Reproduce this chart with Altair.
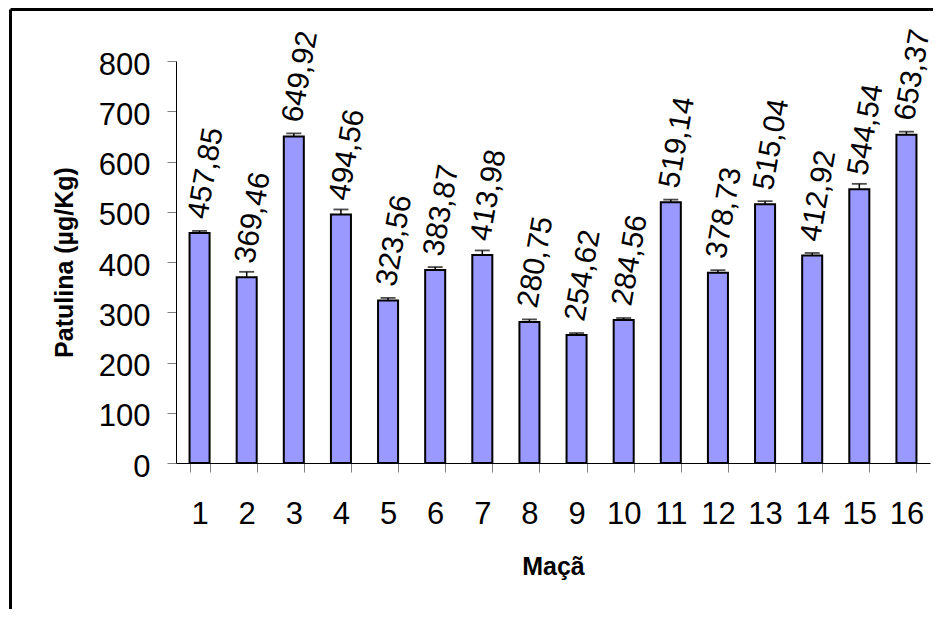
import altair as alt
import pandas as pd

categories = [str(i) for i in range(1, 17)]
values = [457.85, 369.46, 649.92, 494.56, 323.56, 383.87, 413.98, 280.75,
          254.62, 284.56, 519.14, 378.73, 515.04, 412.92, 544.54, 653.37]
errors = [4, 11, 6, 10, 5, 6, 9, 5, 4, 4, 5, 5, 6, 5, 11, 6]
labels = [f"{v:.2f}".replace(".", ",") for v in values]
y_ticks = list(range(0, 801, 100))

df = pd.DataFrame({
    "cat": categories,
    "val": values,
    "hi": [v + e for v, e in zip(values, errors)],
    "label": labels,
})

W, H = 754, 402
FONT = "Liberation Sans"

x_enc = alt.X(
    "cat:N", sort=categories,
    scale=alt.Scale(paddingInner=0.575, paddingOuter=0.2875),
    axis=alt.Axis(
        title="Maçã", labelAngle=0, tickBand="extent", tickSize=9, grid=False,
        tickColor="#808080", domainColor="black", labelFontSize=31,
        labelPadding=27, labelOverlap=False, titleFontSize=25,
        titleFontWeight="bold", titleX=377, titleY=91,
    ),
)
y_enc = alt.Y(
    "val:Q",
    scale=alt.Scale(domain=[0, 800], nice=False),
    axis=alt.Axis(
        title="Patulina (µg/Kg)", values=y_ticks, tickSize=9, grid=False,
        tickColor="#808080", domainColor="black", labelFontSize=31,
        labelPadding=17, labelOffset=4, labelOverlap=False, labelFlush=False,
        titleFontSize=25, titleFontWeight="bold", titleX=-99, titleY=201,
    ),
)

base = alt.Chart(df)

bars = base.mark_bar(color="#9999FF", stroke="black", strokeWidth=2).encode(
    x=x_enc, y=y_enc
)
err = base.mark_rule(color="black", strokeWidth=1.5).encode(
    x=alt.X("cat:N", sort=categories), y="val:Q", y2="hi:Q"
)
caps = base.mark_tick(color="black", thickness=1.8, size=15).encode(
    x=alt.X("cat:N", sort=categories), y="hi:Q"
)
text = base.mark_text(
    angle=280, align="left", baseline="middle", dx=14, dy=-4,
    fontSize=30, font=FONT, color="black",
).encode(x=alt.X("cat:N", sort=categories), y="val:Q", text="label:N")

frame_df = pd.DataFrame({"k": [0]})
frame_top = alt.Chart(frame_df).mark_rule(color="black", strokeWidth=3).encode(
    x=alt.value(-165.5), x2=alt.value(757), y=alt.value(-51.5)
)
frame_left = alt.Chart(frame_df).mark_rule(color="black", strokeWidth=3).encode(
    x=alt.value(-165.5), y=alt.value(-51.5), y2=alt.value(548)
)

chart = alt.layer(frame_top, frame_left, bars, err, caps, text).properties(
    width=W, height=H,
    background="white",
    autosize=alt.AutoSizeParams(type="none"),
    padding={"left": 168, "top": 53, "right": 3, "bottom": 146},
).configure_view(stroke="transparent").configure_axis(
    grid=False, labelFont=FONT, titleFont=FONT,
    labelColor="black", titleColor="black",
)

chart.save("out.html", embed_options={"renderer": "svg", "actions": False})
